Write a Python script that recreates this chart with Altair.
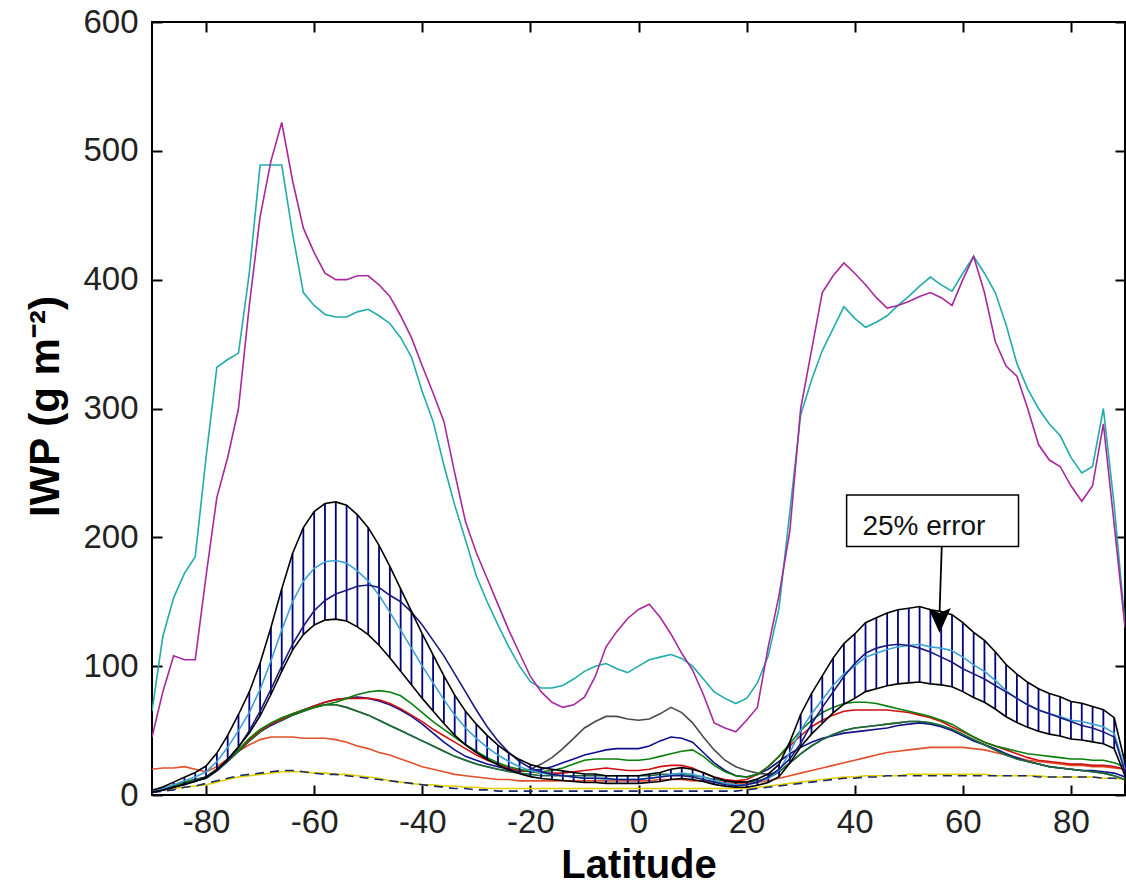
import altair as alt
import pandas as pd

# ---------------- data ----------------
LAT = list(range(-90, 91, 2))

MAGENTA = [45, 80, 108, 105, 105, 170, 231, 262, 300, 380,
           449, 492, 522, 477, 440, 421, 405, 400, 400, 403,
           403, 396, 387, 372, 355, 333, 312, 290, 250, 212,
           188, 168, 148, 128, 110, 92, 80, 72, 68, 70,
           76, 92, 115, 127, 137, 144, 148, 138, 125, 110,
           97, 78, 56, 52, 49, 58, 68, 115, 155, 205,
           300, 345, 390, 403, 413, 405, 396, 386, 378, 380,
           383, 387, 390, 386, 380, 400, 418, 390, 352, 333,
           325, 300, 272, 260, 255, 240, 228, 240, 288, 210,
           130]

CYAN = [65, 123, 153, 172, 185, 262, 332, 338, 343, 405,
        489, 489, 489, 436, 390, 380, 373, 371, 371, 375,
        377, 372, 366, 355, 340, 313, 290, 256, 225, 198,
        170, 150, 132, 115, 100, 88, 83, 83, 85, 90,
        96, 100, 102, 98, 95, 100, 105, 107, 109, 106,
        100, 90, 80, 75, 71, 75, 87, 108, 145, 220,
        295, 322, 345, 362, 379, 370, 363, 367, 372, 380,
        387, 395, 402, 396, 391, 405, 418, 405, 390, 365,
        335, 315, 300, 288, 279, 262, 250, 255, 300, 225,
        132]

BAND_CENTER = [3, 5, 8, 11, 14, 18, 26, 37, 50, 64,
               82, 104, 128, 150, 166, 176, 181, 182, 180, 174,
               166, 155, 142, 128, 114, 100, 87, 74, 62, 52,
               44, 37, 31, 26, 22, 19, 17, 16, 15, 14,
               13, 13, 12, 12, 12, 12, 13, 14, 16, 17,
               16, 14, 11, 9, 8, 8, 10, 13, 19, 33,
               50, 63, 74, 85, 94, 100, 107, 110, 113, 115,
               116, 117, 115, 114, 112, 107, 101, 96, 89, 81,
               75, 70, 66, 63, 61, 58, 57, 55, 53, 48,
               20]

NAVY1 = [2, 4, 6, 8, 11, 14, 19, 27, 37, 50,
         65, 82, 100, 117, 131, 143, 151, 156, 159, 162,
         163, 161, 155, 150, 142, 132, 120, 108, 94, 80,
         66, 53, 42, 33, 26, 21, 18, 16, 15, 14,
         13, 13, 13, 12, 12, 12, 13, 14, 15, 15,
         14, 12, 10, 8, 7, 8, 10, 14, 20, 28,
         40, 55, 68, 80, 92, 102, 110, 114, 116, 117,
         116, 114, 111, 107, 103, 98, 94, 90, 85, 80,
         75, 70, 66, 63, 60, 57, 54, 52, 49, 45,
         18]

GREEN1 = [2, 4, 7, 10, 12, 14, 20, 27, 35, 44,
          51, 56, 60, 63, 66, 68, 70, 72, 75, 78,
          80, 81, 80, 77, 71, 64, 57, 51, 45, 39,
          34, 29, 25, 22, 20, 18, 18, 19, 21, 24,
          27, 28, 28, 28, 27, 27, 28, 30, 32, 34,
          35, 30, 23, 18, 15, 14, 16, 22, 30, 40,
          50, 58, 64, 68, 71, 72, 72, 71, 69, 67,
          65, 63, 61, 58, 55, 50, 45, 41, 38, 36,
          34, 32, 31, 30, 29, 28, 28, 27, 27, 25,
          22]

RED = [3, 5, 8, 10, 12, 14, 20, 27, 35, 43,
       50, 55, 59, 63, 66, 69, 72, 74, 75, 75,
       75, 74, 71, 67, 62, 57, 51, 46, 41, 36,
       31, 27, 24, 21, 19, 18, 17, 17, 17, 18,
       19, 20, 21, 20, 19, 19, 20, 22, 23, 23,
       21, 17, 14, 12, 11, 12, 16, 22, 30, 38,
       46, 53, 58, 62, 65, 66, 66, 66, 66, 65,
       64, 62, 60, 57, 53, 49, 45, 41, 38, 35,
       32, 29, 27, 26, 25, 24, 24, 23, 23, 22,
       20]

GREEN2 = [2, 4, 6, 9, 11, 13, 19, 26, 34, 42,
          49, 55, 58, 62, 65, 68, 70, 70, 68, 65,
          62, 58, 54, 50, 46, 42, 38, 34, 30, 27,
          24, 22, 20, 18, 17, 16, 15, 15, 15, 15,
          15, 15, 15, 15, 15, 15, 15, 16, 16, 16,
          15, 14, 12, 11, 10, 10, 11, 13, 18, 25,
          32, 38, 43, 47, 50, 52, 53, 54, 55, 56,
          57, 57, 56, 54, 51, 47, 43, 39, 35, 31,
          28, 26, 24, 22, 21, 20, 19, 18, 17, 15,
          12]

NAVY2 = [2, 4, 6, 9, 11, 13, 19, 26, 34, 42,
         49, 54, 58, 62, 66, 69, 72, 74, 75, 76,
         75, 73, 70, 66, 61, 55, 48, 41, 35, 30,
         27, 24, 22, 20, 19, 19, 20, 22, 25, 28,
         31, 33, 35, 36, 36, 36, 38, 42, 45, 44,
         41, 33, 25, 19, 15, 14, 16, 20, 26, 32,
         37, 41, 44, 46, 48, 49, 50, 51, 52, 54,
         55, 56, 55, 53, 50, 46, 42, 39, 36, 32,
         29, 26, 24, 22, 21, 20, 19, 19, 18, 17,
         14]

GRAY = [2, 4, 6, 9, 11, 13, 19, 26, 34, 42,
        49, 55, 58, 62, 65, 68, 70, 70, 68, 65,
        62, 58, 54, 50, 46, 42, 38, 34, 30, 27,
        24, 22, 20, 19, 18, 20, 24, 29, 36, 44,
        52, 57, 61, 61, 59, 58, 59, 63, 68, 64,
        56, 45, 35, 27, 22, 19, 17, 16, 18, 25,
        32, 38, 43, 47, 50, 52, 53, 54, 55, 56,
        57, 57, 56, 54, 51, 47, 43, 39, 35, 31,
        28, 26, 24, 22, 21, 20, 19, 18, 17, 15,
        12]

ORANGE = [20, 21, 21, 22, 20, 18, 22, 28, 34, 39,
          43, 45, 45, 45, 44, 44, 44, 43, 41, 38,
          36, 33, 31, 28, 25, 22, 20, 18, 16, 15,
          14, 13, 12, 12, 11, 11, 11, 11, 11, 11,
          11, 11, 11, 11, 11, 11, 11, 12, 12, 12,
          11, 11, 10, 10, 9, 9, 10, 11, 13, 15,
          17, 19, 21, 23, 25, 27, 29, 31, 33, 34,
          35, 36, 37, 37, 37, 37, 36, 35, 33, 31,
          29, 27, 26, 25, 24, 23, 23, 22, 22, 21,
          20]

YELLOW = [3, 4, 5, 6, 7, 8, 10, 12, 14, 15,
          16, 17, 18, 18, 18, 17, 17, 16, 16, 15,
          14, 13, 11, 10, 9, 8, 8, 7, 7, 6,
          6, 5, 5, 5, 5, 5, 5, 5, 5, 5,
          5, 5, 5, 5, 5, 5, 5, 5, 5, 5,
          5, 5, 5, 5, 5, 5, 6, 7, 8, 9,
          10, 11, 12, 13, 14, 14, 15, 15, 15, 15,
          16, 16, 16, 16, 16, 16, 16, 16, 15, 15,
          15, 15, 15, 14, 14, 14, 14, 14, 13, 13,
          12]

DASHED = [2, 3, 4, 6, 7, 9, 11, 13, 15, 16,
          17, 18, 19, 19, 18, 17, 16, 16, 15, 14,
          13, 12, 11, 10, 9, 8, 7, 6, 5, 5,
          4, 4, 3, 3, 3, 3, 3, 3, 3, 3,
          3, 3, 3, 3, 3, 3, 3, 3, 3, 3,
          3, 3, 3, 3, 3, 4, 5, 6, 7, 8,
          9, 10, 11, 12, 13, 13, 14, 14, 15, 15,
          15, 15, 15, 15, 15, 15, 15, 15, 15, 15,
          15, 15, 14, 14, 14, 14, 14, 14, 13, 13,
          12]

ERROR_FRACTION = 0.25

XTICKS = [-80, -60, -40, -20, 0, 20, 40, 60, 80]
YTICKS = [0, 100, 200, 300, 400, 500, 600]

# annotation (data coordinates)
NOTE_TEXT = "25% error"
NOTE_BOX = {"x1": [38.5], "x2": [70.3], "y1": [192.8], "y2": [232.9]}
NOTE_LABEL = {"lat": [52.8], "val": [202.0]}
NOTE_ARROW = {"x1": [56.1], "y1": [192.8], "x2": [55.7], "y2": [142.0]}
NOTE_HEAD = {"lat": [55.7], "val": [135.5]}

# ---------------- chart ----------------
W, H = 973, 773
FONT = "Liberation Sans"
HYPHEN_LABEL = "replace(datum.label, '\u2212', '-')"

xs = alt.Scale(domain=[-90, 90], nice=False, zero=False)
ys = alt.Scale(domain=[0, 600], nice=False, zero=False)

main_x_axis = alt.Axis(values=XTICKS, ticks=False, tickSize=0, domain=False, grid=False,
                       labelFont=FONT, labelFontSize=33, labelColor="#222222",
                       labelPadding=11, labelFlush=False, labelOverlap=False,
                       labelExpr=HYPHEN_LABEL,
                       title="Latitude", titleFont=FONT, titleFontSize=40,
                       titleFontWeight="bold", titleColor="#000000",
                       titleBaseline="alphabetic", titleY=82)
main_y_axis = alt.Axis(values=YTICKS, ticks=False, tickSize=0, domain=False, grid=False,
                       labelFont=FONT, labelFontSize=33, labelColor="#222222",
                       labelPadding=14, labelFlush=False, labelOverlap=False,
                       title="IWP (g m\u207b\u00b2)", titleFont=FONT, titleFontSize=42,
                       titleFontWeight="bold", titleColor="#000000",
                       titleAngle=270, titleBaseline="alphabetic", titleAlign="center",
                       titleX=-94, titleY=384)

def line_df(vals):
    return pd.DataFrame({"lat": LAT, "val": vals})

band = pd.DataFrame({"lat": LAT, "c": BAND_CENTER})
band["lo"] = band["c"] * (1 - ERROR_FRACTION)
band["hi"] = band["c"] * (1 + ERROR_FRACTION)

layers = []

# lower model lines (first one carries the labelled axes)
lower_specs = [
    (YELLOW, "#E2D000", None),
    (DASHED, "#1B2B6A", [9, 6]),
    (ORANGE, "#E0502A", None),
    (GRAY, "#4A4A4A", None),
    (NAVY2, "#10108C", None),
    (GREEN2, "#1B6E3A", None),
    (RED, "#D01010", None),
    (GREEN1, "#0A800A", None),
]
for i, (vals, col, dash) in enumerate(lower_specs):
    kw = dict(color=col, strokeWidth=1.6, clip=True)
    if dash:
        kw["strokeDash"] = dash
    xa = main_x_axis if i == 0 else None
    ya = main_y_axis if i == 0 else None
    layers.append(
        alt.Chart(line_df(vals)).mark_line(**kw).encode(
            x=alt.X("lat:Q", scale=xs, axis=xa),
            y=alt.Y("val:Q", scale=ys, axis=ya),
        )
    )

# hatch of the 25% error band
layers.append(
    alt.Chart(band).mark_rule(color="#000080", strokeWidth=1.8).encode(
        x=alt.X("lat:Q", scale=xs, axis=None),
        y=alt.Y("lo:Q", scale=ys, axis=None),
        y2="hi:Q",
    )
)

# lines inside the band
for vals, col in [(BAND_CENTER, "#3EA2D6"), (NAVY1, "#1A1A80")]:
    layers.append(
        alt.Chart(line_df(vals)).mark_line(color=col, strokeWidth=1.6).encode(
            x=alt.X("lat:Q", scale=xs, axis=None),
            y=alt.Y("val:Q", scale=ys, axis=None),
        )
    )

# band edges
for col_name in ["lo", "hi"]:
    layers.append(
        alt.Chart(band).mark_line(color="#000000", strokeWidth=1.6).encode(
            x=alt.X("lat:Q", scale=xs, axis=None),
            y=alt.Y(f"{col_name}:Q", scale=ys, axis=None),
        )
    )

# big cyan / magenta lines
for vals, col in [(CYAN, "#22ABAB"), (MAGENTA, "#A8289E")]:
    layers.append(
        alt.Chart(line_df(vals)).mark_line(color=col, strokeWidth=1.6, clip=True).encode(
            x=alt.X("lat:Q", scale=xs, axis=None),
            y=alt.Y("val:Q", scale=ys, axis=None),
        )
    )

# annotation
layers.append(
    alt.Chart(pd.DataFrame(NOTE_BOX)).mark_rect(fill="white", stroke="black", strokeWidth=1.5).encode(
        x=alt.X("x1:Q", scale=xs, axis=None), x2="x2:Q",
        y=alt.Y("y1:Q", scale=ys, axis=None), y2="y2:Q",
    )
)
layers.append(
    alt.Chart(pd.DataFrame(NOTE_LABEL)).mark_text(
        text=NOTE_TEXT, font=FONT, fontSize=28, color="#111111",
        align="center", baseline="alphabetic"
    ).encode(
        x=alt.X("lat:Q", scale=xs, axis=None),
        y=alt.Y("val:Q", scale=ys, axis=None),
    )
)
layers.append(
    alt.Chart(pd.DataFrame(NOTE_ARROW)).mark_rule(color="black", strokeWidth=1.8).encode(
        x=alt.X("x1:Q", scale=xs, axis=None), x2="x2:Q",
        y=alt.Y("y1:Q", scale=ys, axis=None), y2="y2:Q",
    )
)
layers.append(
    alt.Chart(pd.DataFrame(NOTE_HEAD)).mark_point(
        shape="M-0.9,-1L0,-0.6L0.9,-1L0,1Z", size=625, filled=True, color="black", opacity=1
    ).encode(
        x=alt.X("lat:Q", scale=xs, axis=None),
        y=alt.Y("val:Q", scale=ys, axis=None),
    )
)

# inward-pointing ticks on all four sides (MATLAB box style)
xt = pd.DataFrame({"v": XTICKS})
yt = pd.DataFrame({"v": YTICKS})
for orient in ["bottom", "top"]:
    layers.append(
        alt.Chart(xt).mark_point(opacity=0).encode(
            x=alt.X("v:Q", scale=xs, axis=alt.Axis(
                orient=orient, offset=-10, tickSize=10, tickWidth=2, tickColor="black",
                labels=False, domain=False, grid=False, title=None, values=XTICKS)),
        )
    )
for orient in ["left", "right"]:
    layers.append(
        alt.Chart(yt).mark_point(opacity=0).encode(
            y=alt.Y("v:Q", scale=ys, axis=alt.Axis(
                orient=orient, offset=-10, tickSize=10, tickWidth=2, tickColor="black",
                labels=False, domain=False, grid=False, title=None, values=YTICKS)),
        )
    )

chart = (
    alt.layer(*layers)
    .resolve_axis(x="independent", y="independent")
    .properties(
        width=W, height=H,
        autosize=alt.AutoSizeParams(type="none"),
        padding={"left": 152, "top": 22, "right": 1, "bottom": 93},
        background="white",
    )
    .configure_view(stroke="black", strokeWidth=2)
)

chart.save("out.html", embed_options={"renderer": "svg", "actions": False})
